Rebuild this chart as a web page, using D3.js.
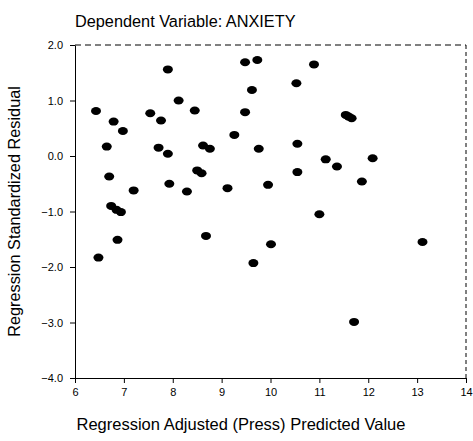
<!DOCTYPE html>
<html>
<head>
<meta charset="utf-8">
<script src="https://cdn.jsdelivr.net/npm/d3@7"></script>
<style>
  body { margin: 0; background: #fff; }
  svg text { font-family: "Liberation Sans", Arial, sans-serif; fill: #000; }
</style>
</head>
<body>
<div id="chart"></div>
<script>
// Predicted values (x) and standardized residuals (y)
const predicted = [
    7.90, 8.12, 6.43, 7.54, 8.45, 6.79, 7.76, 6.98, 6.65, 7.71,
    7.90, 8.62, 8.76, 9.48, 9.73, 10.89, 10.53, 9.62, 9.48, 9.26,
    9.76, 10.55, 11.13, 11.54, 11.60, 11.66, 12.09, 11.36, 6.70, 7.20,
    7.93, 8.29, 8.50, 8.59, 6.74, 6.85, 6.94, 6.87, 6.48, 8.68,
    10.55, 9.12, 9.95, 11.00, 10.01, 9.65, 11.87, 13.11, 11.71
];
const residuals = [
    1.56, 1.00, 0.81, 0.77, 0.82, 0.62, 0.64, 0.45, 0.17, 0.15,
    0.04, 0.19, 0.13, 1.69, 1.73, 1.65, 1.31, 1.19, 0.79, 0.38,
    0.13, 0.22, -0.06, 0.74, 0.71, 0.68, -0.04, -0.19, -0.37, -0.62,
    -0.50, -0.64, -0.26, -0.31, -0.90, -0.97, -1.01, -1.51, -1.83, -1.44,
    -0.29, -0.58, -0.52, -1.05, -1.59, -1.93, -0.46, -1.55, -2.99
];
const xTicks = [6, 7, 8, 9, 10, 11, 12, 13, 14];
const yTicks = [-4, -3, -2, -1, 0, 1, 2];

const points = predicted.map((v, i) => ({ x: v, y: residuals[i] }));

const width = 473, height = 441;
const plot = { left: 75, right: 466, top: 45, bottom: 378 };

const svg = d3.select('#chart')
    .append('svg')
    .attr('width', width)
    .attr('height', height);

const x = d3.scaleLinear().domain([6, 14]).range([plot.left, plot.right]);
const y = d3.scaleLinear().domain([-4, 2]).range([plot.bottom, plot.top]);

// Dashed top and right frame
svg.append('line')
    .attr('x1', plot.left).attr('x2', plot.right)
    .attr('y1', plot.top).attr('y2', plot.top)
    .attr('stroke', '#000').attr('stroke-dasharray', '6,4');
svg.append('line')
    .attr('x1', plot.right).attr('x2', plot.right)
    .attr('y1', plot.top).attr('y2', plot.bottom)
    .attr('stroke', '#000').attr('stroke-dasharray', '4,3');

// Axes
const yAxis = svg.append('g')
    .attr('transform', `translate(${plot.left},0)`)
    .call(d3.axisLeft(y).tickValues(yTicks).tickFormat(d3.format('.1f')).tickSize(5).tickSizeOuter(0));
const xAxis = svg.append('g')
    .attr('transform', `translate(0,${plot.bottom})`)
    .call(d3.axisBottom(x).tickValues(xTicks).tickSize(5).tickSizeOuter(0));

[xAxis, yAxis].forEach(g => {
    g.selectAll('text').attr('font-size', 11).attr('font-family', '"Liberation Sans", Arial, sans-serif');
    g.select('.domain').attr('stroke', '#000');
});
yAxis.selectAll('text').attr('x', -12);
xAxis.selectAll('text').attr('y', 10);

// Points
svg.selectAll('.pt')
    .data(points)
    .enter()
    .append('ellipse')
    .attr('class', 'pt')
    .attr('cx', d => x(d.x))
    .attr('cy', d => y(d.y))
    .attr('rx', 5)
    .attr('ry', 4)
    .attr('fill', '#000');

// Titles
svg.append('text')
    .attr('x', plot.left)
    .attr('y', 27)
    .attr('font-size', 16.3)
    .text('Dependent Variable: ANXIETY');

svg.append('text')
    .attr('text-anchor', 'middle')
    .attr('x', 241)
    .attr('y', 430)
    .attr('font-size', 16.5)
    .text('Regression Adjusted (Press) Predicted Value');

svg.append('text')
    .attr('text-anchor', 'middle')
    .attr('transform', `translate(20,${(plot.top + plot.bottom) / 2}) rotate(-90)`)
    .attr('font-size', 16.3)
    .text('Regression Standardized Residual');
</script>
</body>
</html>
